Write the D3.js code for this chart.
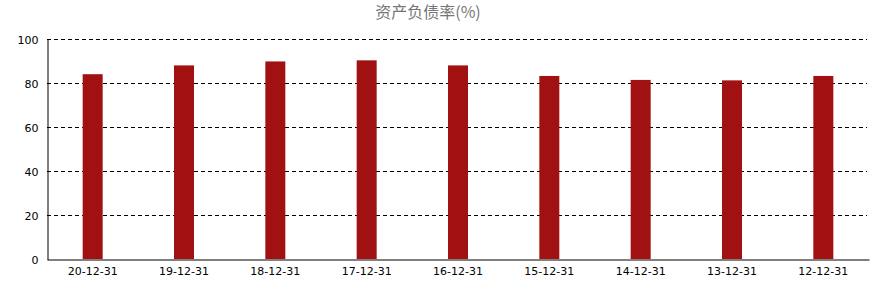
<!DOCTYPE html>
<html>
<head>
<meta charset="utf-8">
<script src="https://cdn.jsdelivr.net/npm/d3@7"></script>
<style>
  body { margin: 0; background: #fff; }
  svg { display: block; }
</style>
</head>
<body>
<div id="chart"></div>
<script>
// Chart data
let title = '资产负债率(%)';
let dates = ['20-12-31', '19-12-31', '18-12-31', '17-12-31', '16-12-31',
             '15-12-31', '14-12-31', '13-12-31', '12-12-31'];
let ratios = [84.0, 88.0, 89.8, 90.3, 88.0, 83.2, 81.4, 81.2, 83.2];
let yTicks = [0, 20, 40, 60, 80, 100];

let dim = { width: 876, height: 291 };
let plot = { left: 47, right: 869, top: 39, bottom: 259 };

let svg = d3.select('#chart')
    .append('svg')
    .attr('width', dim.width)
    .attr('height', dim.height);

// Scales
let x = d3.scaleBand()
    .domain(dates)
    .range([plot.left, plot.right]);

let y = d3.scaleLinear()
    .domain([0, 100])
    .range([plot.bottom, plot.top]);

let barWidth = 20;

// dashed grid lines
svg.append('g')
    .selectAll('line')
    .data(yTicks.filter(d => d > 0))
    .join('line')
    .attr('x1', plot.left)
    .attr('x2', plot.right - 2)
    .attr('y1', d => Math.round(y(d)) + 0.5)
    .attr('y2', d => Math.round(y(d)) + 0.5)
    .attr('stroke', '#000')
    .attr('stroke-dasharray', '4,3');

// bars
svg.append('g')
    .selectAll('rect')
    .data(ratios)
    .join('rect')
    .attr('x', (d, i) => x(dates[i]) + x.bandwidth() / 2 - barWidth / 2)
    .attr('y', d => y(d))
    .attr('width', barWidth)
    .attr('height', d => y(0) - y(d))
    .attr('fill', '#a11112');

// y axis
let yAxis = svg.append('g')
    .attr('transform', `translate(${plot.left + 0.5}, 0.5)`)
    .call(d3.axisLeft(y).tickValues(yTicks).tickSize(0).tickPadding(9).tickFormat(d3.format('d')));
yAxis.select('.domain').attr('stroke', '#000');
yAxis.selectAll('text')
    .attr('font-family', 'DejaVu Sans, sans-serif')
    .attr('font-size', 11)
    .attr('fill', '#000');

// x axis
let xAxis = svg.append('g')
    .attr('transform', `translate(0, ${plot.bottom + 0.5})`)
    .call(d3.axisBottom(x).tickSize(0).tickPadding(8));
xAxis.select('.domain').attr('stroke', '#000');
xAxis.selectAll('text')
    .attr('font-family', 'DejaVu Sans, sans-serif')
    .attr('font-size', 11)
    .attr('fill', '#000');

// title
svg.append('text')
    .attr('x', 428)
    .attr('y', 18)
    .attr('text-anchor', 'middle')
    .attr('font-family', 'Noto Sans CJK SC, sans-serif')
    .attr('font-size', 16)
    .attr('fill', '#777')
    .text(title);
</script>
</body>
</html>
